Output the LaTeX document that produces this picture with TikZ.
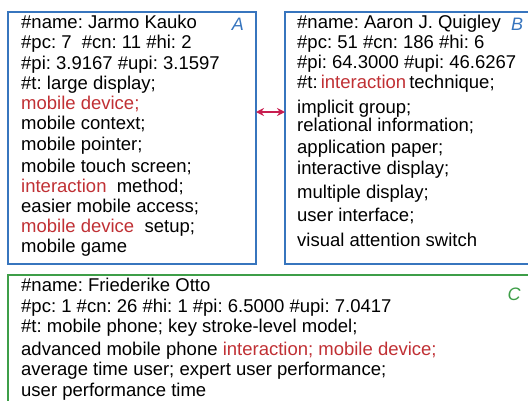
\documentclass[tikz,border=0pt]{standalone}
\usepackage{fontspec}
\setmainfont{Liberation Sans}
\usetikzlibrary{arrows.meta, positioning}

\definecolor{boxblue}{RGB}{55,117,190}
\definecolor{boxgreen}{RGB}{62,158,72}
\definecolor{hired}{RGB}{192,48,52}
\definecolor{linkred}{RGB}{200,30,80}

\tikzset{
  card/.style={draw=#1, line width=2.6pt, inner sep=0pt, outer sep=0pt},
  cardtext/.style={anchor=north west, inner sep=0pt, align=left,
    font=\frenchspacing\fontsize{18.5}{20.2}\selectfont},
  tag/.style={text=#1, inner sep=0pt, font=\fontsize{18}{18}\selectfont\itshape},
  link/.style={draw=linkred, line width=1.6pt,
    {Stealth[length=8pt,width=8pt]}-{Stealth[length=8pt,width=8pt]}},
}
\newcommand{\hl}[1]{\textcolor{hired}{#1}}

\begin{document}
\begin{tikzpicture}[x=1pt, y=-1pt]
\useasboundingbox (0,0) rectangle (528,400);
\clip (0,0) rectangle (528,400);

% the three author cards
\node[card=boxblue, minimum width=248pt, minimum height=252pt] (A) at (132,138) {};
\node[card=boxblue, minimum width=250pt, minimum height=252pt] (B) at (410,138) {};
\node[card=boxgreen, minimum width=532pt, minimum height=136pt] (C) at (274,343) {};

\node[tag=boxblue] (labA) at ([xshift=-18pt,yshift=-12pt]A.north east) {A};
\node[tag=boxblue] (labB) at (517,24) {B};
\node[tag=boxgreen] (labC) at (514,294) {C};

\node[cardtext] (txtA) at (21,15) {\#name: Jarmo Kauko\\
  \#pc: 7\ \ \#cn: 11 \#hi: 2\\
  \#pi: 3.9167 \#upi: 3.1597\\
  \#t: large display;\\
  \hl{mobile device;}\\
  mobile context;\\[0.8pt]
  mobile pointer;\\[1.2pt]
  mobile touch screen;\\
  \hl{interaction}\ \ method;\\
  easier mobile access;\\
  \hl{mobile device}\ \ setup;\\
  mobile game};

\node[cardtext, font=\frenchspacing\fontsize{18.5}{20}\selectfont] (txtB) at (297,15) {\#name: Aaron J. Quigley\\
  \#pc: 51 \#cn: 186 \#hi: 6\\
  \#pi: 64.3000 \#upi: 46.6267\\
  \#t:\,\hl{interaction}\,technique;\\[5pt]
  implicit group;\\[-2pt]
  relational information;\\[2pt]
  application paper;\\[1pt]
  interactive display;\\[4pt]
  multiple display;\\[3pt]
  user interface;\\[5pt]
  visual attention switch};

\node[cardtext, font=\frenchspacing\fontsize{18.5}{20.5}\selectfont] (txtC) at (21,278) {\#name: Friederike Otto\\
  \#pc: 1 \#cn: 26 \#hi: 1 \#pi: 6.5000 \#upi: 7.0417\\
  \#t: mobile phone; key stroke-level model;\\[2pt]
  advanced mobile phone \hl{interaction; mobile device;}\\
  average time user; expert user performance;\\
  user performance time};

% shared topic link
\draw[link] ([yshift=26pt]A.east) -- ([yshift=26pt]B.west);
\end{tikzpicture}
\end{document}
